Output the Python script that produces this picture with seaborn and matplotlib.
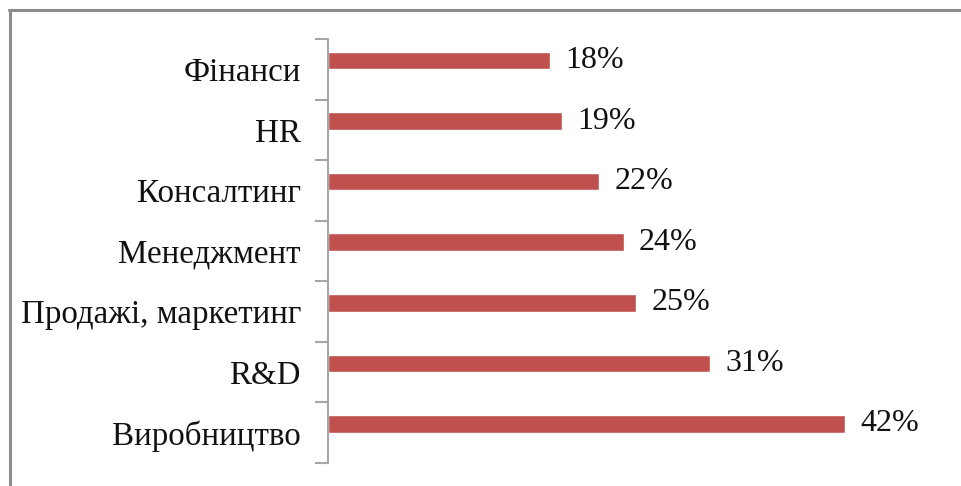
import matplotlib.pyplot as plt
import numpy as np
import pandas as pd
import seaborn as sns
from matplotlib.lines import Line2D

categories = ["Фінанси", "HR", "Консалтинг", "Менеджмент",
              "Продажі, маркетинг", "R&D", "Виробництво"]
values = [18, 19, 22, 24, 25, 31, 42]

df = pd.DataFrame({"area": categories, "share": values})

sns.set_style("white")
plt.rcParams["font.family"] = ["Liberation Serif", "DejaVu Serif"]

fig = plt.figure(figsize=(9.62, 4.86), dpi=100)
ax = fig.add_axes([328 / 962, 23 / 486, (950 - 328) / 962, (463 - 39) / 486])

sns.barplot(data=df, x="share", y="area", orient="h", color="#C0504D",
            width=0.29, saturation=1, ax=ax)

# bars sit a bit above the middle of their slot, like the original
shift = 0.355
ax.set_xlim(0, 50.5)
ax.set_ylim(len(categories) - shift, -shift)
ax.set_xlabel("")
ax.set_ylabel("")
ax.set_xticks([])

# major ticks at slot boundaries, labels on minor ticks at slot centres
ax.set_yticks(np.arange(len(categories) + 1) - shift)
ax.set_yticklabels([])
ax.set_yticks(np.arange(len(categories)) - shift + 0.5, minor=True)
ax.set_yticklabels(categories, minor=True, fontsize=23.8, color="#111111")
ax.tick_params(axis="y", which="major", length=9.5, width=1.5, color="#a6a6a6",
               direction="out", left=True)
ax.tick_params(axis="y", which="minor", length=0, pad=19.5)

for side in ["top", "right", "bottom"]:
    ax.spines[side].set_visible(False)
ax.spines["left"].set_color("#a6a6a6")
ax.spines["left"].set_linewidth(1.5)

ax.bar_label(ax.containers[0], labels=[f"{v}%" for v in values],
             padding=11, fontsize=23, color="#111111")

# outer frame (top and left edges visible)
fig.add_artist(Line2D([10 / 962, 10 / 962], [0, 1 - 10 / 486],
                      transform=fig.transFigure, color="#8c8c8c", lw=2.2))
fig.add_artist(Line2D([9 / 962, 1], [1 - 10 / 486, 1 - 10 / 486],
                      transform=fig.transFigure, color="#8c8c8c", lw=2.2))

plt.savefig("out.png", dpi=100)
